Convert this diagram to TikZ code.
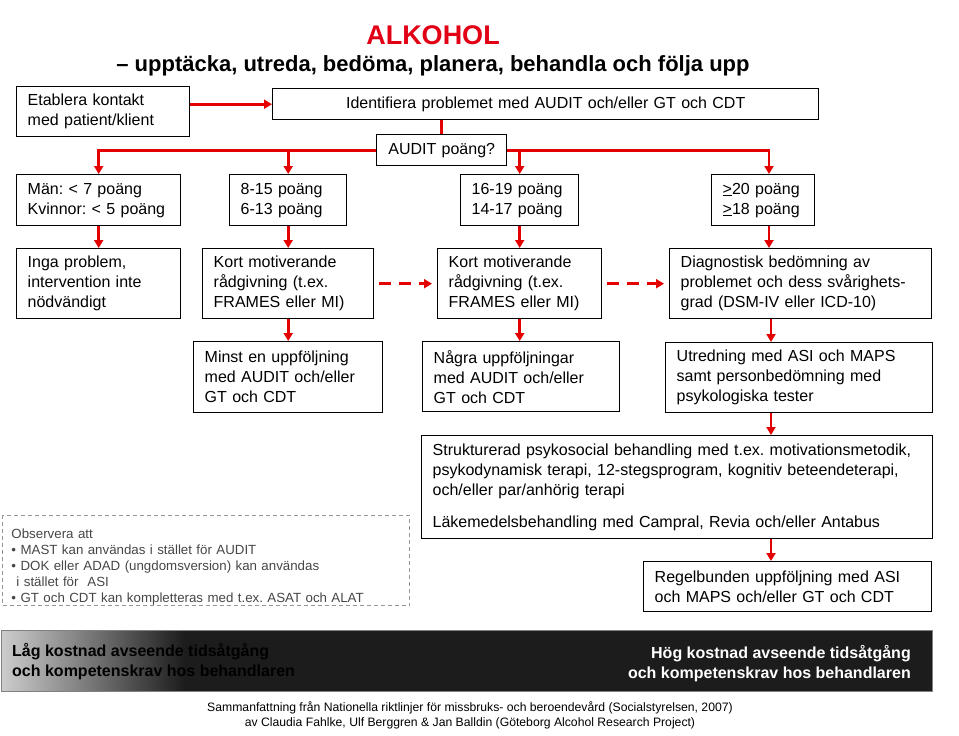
\documentclass[tikz,border=0pt]{standalone}
\usepackage{fontspec}
\setmainfont{Liberation Sans}
\usetikzlibrary{arrows.meta,calc}
\definecolor{arrowred}{RGB}{228,0,0}
\definecolor{titlered}{RGB}{226,0,20}
\definecolor{bardark}{RGB}{28,28,28}
\definecolor{barlight}{RGB}{205,205,205}
\definecolor{notegray}{RGB}{70,70,70}
\definecolor{noteline}{RGB}{150,150,150}
\frenchspacing
\begin{document}
\begin{tikzpicture}[x=1pt,y=-1pt,
  box/.style={draw=black, line width=1.4pt, anchor=north west, align=left,
    inner xsep=11pt, inner ysep=0pt, font=\fontsize{16}{20}\selectfont},
  cbox/.style={box, align=center},
  flow/.style={draw=arrowred, line width=2.6pt, -{Triangle[length=8pt,width=9pt]}},
  plain/.style={draw=arrowred, line width=2.6pt},
  dflow/.style={flow, dash pattern=on 12pt off 8pt, shorten <=5pt, shorten >=5pt},
]
\useasboundingbox (0,0) rectangle (959,736);

% title
\node[text=titlered, font=\bfseries\fontsize{27}{30}\selectfont, inner sep=0] (title) at (433,35) {ALKOHOL};
\node[font=\bfseries\fontsize{22}{26}\selectfont, inner sep=0] (sub) at (433,66) {– upptäcka, utreda, bedöma, planera, behandla och följa upp};

% row 1
\node[box, text width=151pt, minimum height=50pt] (etab) at (16,86) {Etablera kontakt\\med patient/klient};
\node[cbox, text width=524pt, minimum height=31pt] (ident) at (272,88) {Identifiera problemet med AUDIT och/eller GT och CDT};
\node[cbox, text width=108pt, minimum height=31pt] (audit) at (376,134) {AUDIT poäng?};

% row 2
\node[box, text width=142pt, minimum height=51pt] (A) at (16,174) {Män: < 7 poäng\\Kvinnor: < 5 poäng};
\node[box, text width=95pt, minimum height=51pt] (B) at (229,174) {8-15 poäng\\6-13 poäng};
\node[box, text width=96pt, minimum height=51pt] (C) at (460,174) {16-19 poäng\\14-17 poäng};
\node[box, text width=81pt, minimum height=51pt] (D) at (711,174) {\underline{>}20 poäng\\\underline{>}18 poäng};

% row 3
\node[box, text width=142pt, minimum height=70pt] (inga) at (16,248) {Inga problem,\\intervention inte\\nödvändigt};
\node[box, text width=149pt, minimum height=70pt] (kort1) at (202,248) {Kort motiverande\\rådgivning (t.ex.\\FRAMES eller MI)};
\node[box, text width=142pt, minimum height=70pt] (kort2) at (437,248) {Kort motiverande\\rådgivning (t.ex.\\FRAMES eller MI)};
\node[box, text width=240pt, minimum height=70pt] (diag) at (669,248) {Diagnostisk bedömning av\\problemet och dess svårighets-\\grad (DSM-IV eller ICD-10)};

% row 4
\node[box, text width=167pt, minimum height=71pt] (minst) at (193,341) {Minst en uppföljning\\med AUDIT och/eller\\GT och CDT};
\node[box, text width=175pt, minimum height=70pt] (nagra) at (422,341) {Några uppföljningar\\med AUDIT och/eller\\GT och CDT};
\node[box, text width=245pt, minimum height=70pt] (utred) at (665,342) {Utredning med ASI och MAPS\\samt personbedömning med\\psykologiska tester};

% treatment
\node[box, text width=489pt, minimum height=103pt] (struct) at (421,435) {Strukturerad psykosocial behandling med t.ex. motivationsmetodik,\\psykodynamisk terapi, 12-stegsprogram, kognitiv beteendeterapi,\\och/eller par/anhörig terapi\\[12pt]Läkemedelsbehandling med Campral, Revia och/eller Antabus};
\node[box, text width=266pt, minimum height=50pt] (regel) at (643,561) {Regelbunden uppföljning med ASI\\och MAPS och/eller GT och CDT};

% note
\node[draw=noteline, line width=1pt, dash pattern=on 4pt off 3pt, anchor=north west,
  text width=389pt, minimum height=90pt, inner xsep=9pt, inner ysep=0pt, align=left,
  text=notegray, font=\fontsize{13.3}{16}\selectfont] (note) at (2,515)
  {\rule{0pt}{23pt}Observera att\\• MAST kan användas i stället för AUDIT\\• DOK eller ADAD (ungdomsversion) kan användas\\\hspace*{5pt}i stället för\ \ ASI\\• GT och CDT kan kompletteras med t.ex. ASAT och ALAT};

% connectors
\coordinate (xD) at (769,0);
\coordinate (xU) at (771,0);
\draw[flow] (etab.east |- ident.west) -- (ident.west);
\draw[plain] (audit.north |- ident.south) -- (audit.north);
\draw[flow] (audit.west) -| (A.north);
\draw[flow] (audit.west) -| (B.north);
\draw[flow] (audit.east) -| (C.north);
\draw[flow] (audit.east) -| (D.north -| xD);
\draw[flow] (A.south) -- (inga.north);
\draw[flow] (B.south) -- (kort1.north);
\draw[flow] (C.south) -- (kort2.north);
\draw[flow] (D.south -| xD) -- (diag.north -| xD);
\draw[flow] (kort1.south) -- (minst.north -| kort1.south);
\draw[flow] (kort2.south) -- (nagra.north -| kort2.south);
\draw[flow] (diag.south -| xU) -- (utred.north -| xU);
\draw[flow] (utred.south -| xU) -- (struct.north -| xU);
\draw[flow] (struct.south -| xU) -- (regel.north -| xU);
\draw[dflow] (kort1.east) -- (kort2.west);
\draw[dflow] (kort2.east) -- (diag.west);

% cost bar
\shade[left color=barlight, right color=bardark] (1,630) rectangle (185,691);
\fill[bardark] (185,630) rectangle (932,691);
\draw[gray, line width=0.8pt] (1,630) rectangle (932,691);
\node[anchor=west, align=left, inner sep=0, font=\bfseries\fontsize{16}{20}\selectfont] (low) at (12,662)
  {Låg kostnad avseende tidsåtgång\\och kompetenskrav hos behandlaren};
\node[anchor=east, align=right, inner sep=0, text=white, font=\bfseries\fontsize{16}{20}\selectfont] (high) at (911,664)
  {Hög kostnad avseende tidsåtgång\\och kompetenskrav hos behandlaren};

% footer
\node[align=center, inner sep=0, font=\fontsize{12.2}{15}\selectfont] (foot) at (470,715.5)
  {Sammanfattning från Nationella riktlinjer för missbruks- och beroendevård (Socialstyrelsen, 2007)\\av Claudia Fahlke, Ulf Berggren \& Jan Balldin (Göteborg Alcohol Research Project)};
\end{tikzpicture}
\end{document}
